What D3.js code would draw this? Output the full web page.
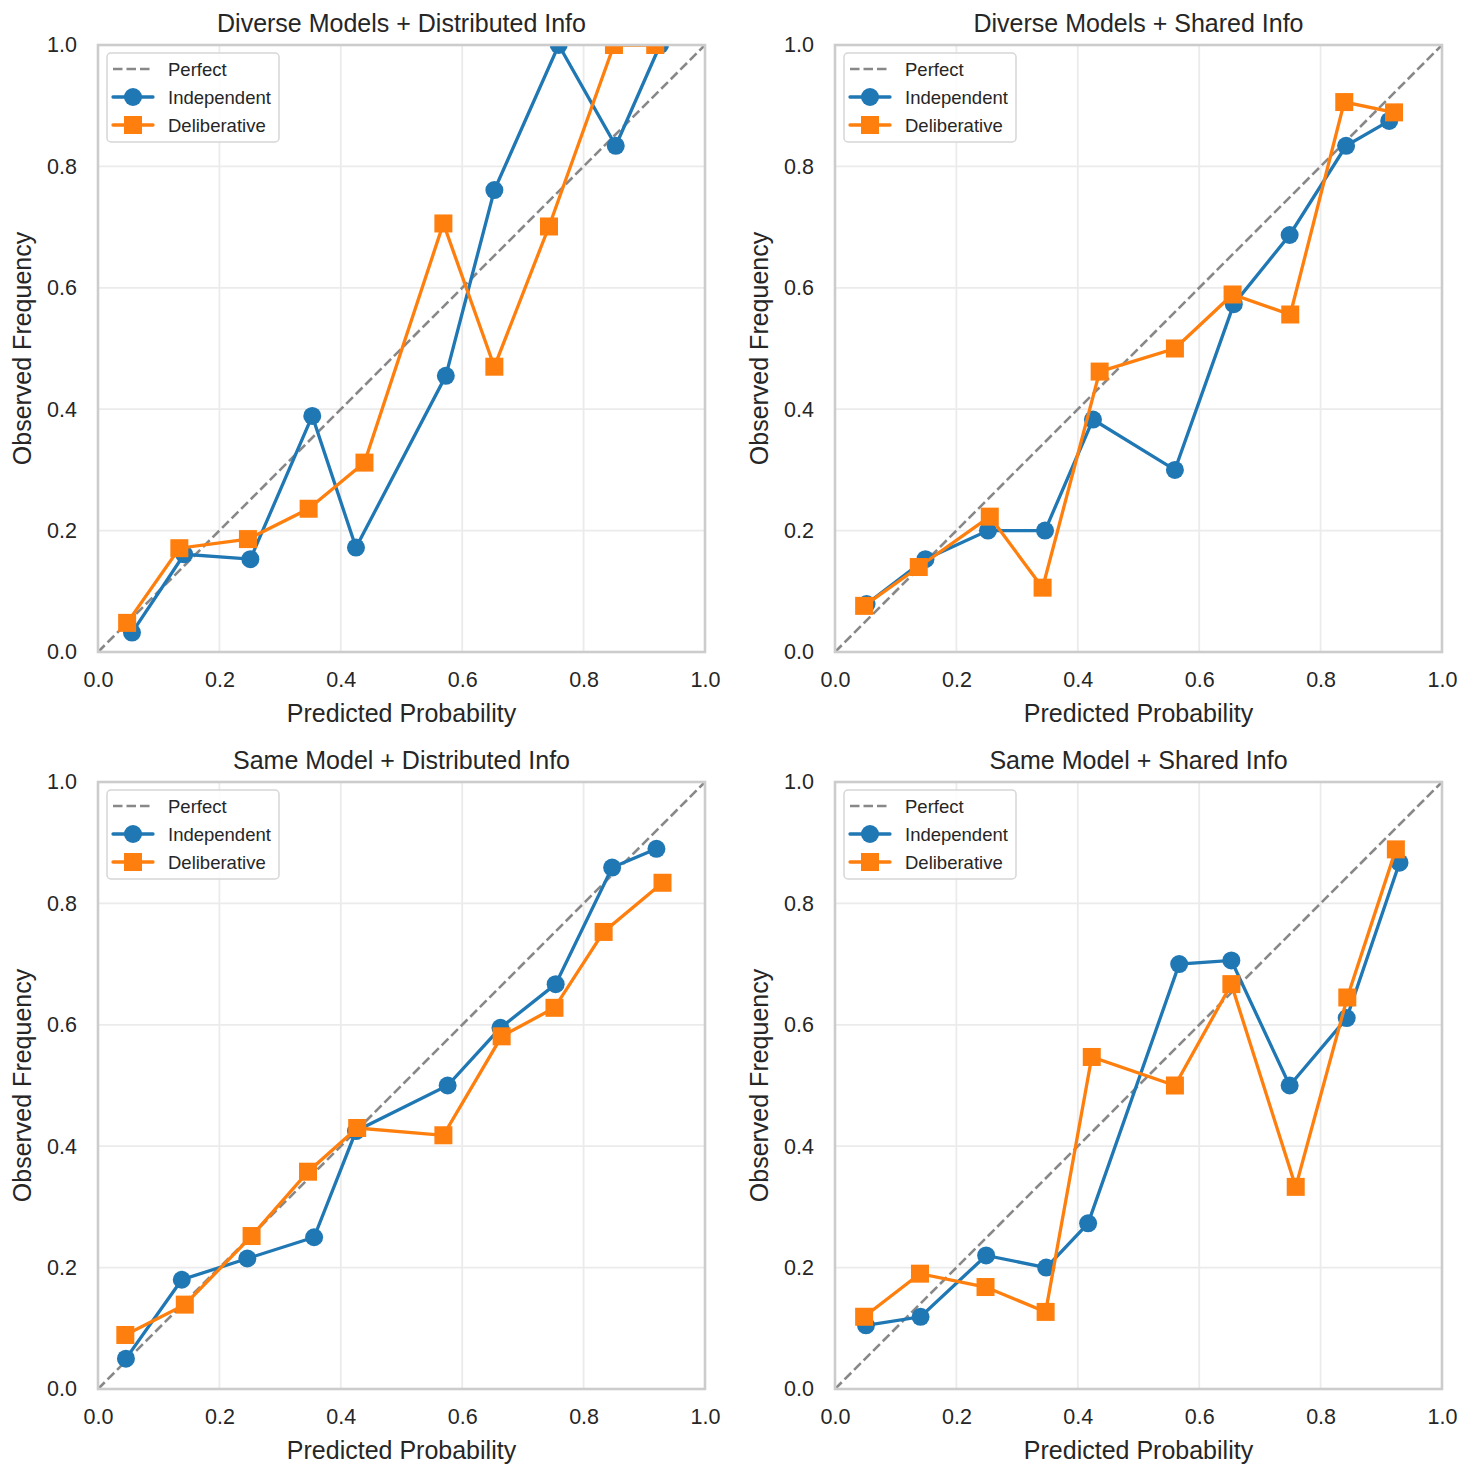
<!DOCTYPE html>
<html><head><meta charset="utf-8">
<script src="https://cdn.jsdelivr.net/npm/d3@7"></script>
<style>body{margin:0;background:#fff}svg{display:block}text{font-family:"Liberation Sans",Arial,sans-serif;fill:#262626}</style>
</head><body>
<svg id="c" width="1472" height="1475"></svg>
<script>
const titles = ["Diverse Models + Distributed Info","Diverse Models + Shared Info","Same Model + Distributed Info","Same Model + Shared Info"];
const indepX = [
 [0.056,0.142,0.251,0.353,0.425,0.573,0.653,0.759,0.853,0.926],
 [0.052,0.149,0.252,0.346,0.425,0.560,0.657,0.749,0.842,0.913],
 [0.046,0.138,0.246,0.356,0.425,0.576,0.663,0.754,0.847,0.920],
 [0.051,0.141,0.249,0.348,0.417,0.567,0.653,0.749,0.843,0.930]];
const indepY = [
 [0.032,0.161,0.153,0.389,0.172,0.455,0.761,1.0,0.834,1.0],
 [0.079,0.153,0.200,0.200,0.383,0.300,0.573,0.687,0.834,0.875],
 [0.050,0.180,0.215,0.250,0.425,0.500,0.595,0.667,0.859,0.890],
 [0.105,0.119,0.220,0.200,0.273,0.700,0.706,0.500,0.611,0.867]];
const delibX = [
 [0.048,0.134,0.247,0.347,0.439,0.569,0.653,0.743,0.850,0.918],
 [0.048,0.138,0.255,0.342,0.436,0.560,0.655,0.750,0.839,0.921],
 [0.045,0.143,0.253,0.346,0.427,0.569,0.665,0.752,0.833,0.930],
 [0.048,0.140,0.248,0.347,0.423,0.560,0.653,0.759,0.844,0.924]];
const delibY = [
 [0.048,0.171,0.186,0.236,0.312,0.706,0.470,0.701,1.0,1.0],
 [0.076,0.140,0.223,0.106,0.462,0.500,0.589,0.556,0.906,0.889],
 [0.089,0.139,0.252,0.358,0.430,0.418,0.581,0.628,0.753,0.834],
 [0.119,0.190,0.168,0.127,0.547,0.500,0.667,0.333,0.645,0.889]];
const ticks = [0,0.2,0.4,0.6,0.8,1.0];
const tickLabels = ["0.0","0.2","0.4","0.6","0.8","1.0"];

const blue="#1f77b4", orange="#ff7f0e";
const svg=d3.select("#c");
const lefts=[98,835], tops=[45,782], W=607, H=607;

titles.forEach((t,i)=>{
  const ox=lefts[i%2], oy=tops[Math.floor(i/2)];
  const g=svg.append("g").attr("transform",`translate(${ox},${oy})`);
  const x=d3.scaleLinear().domain([0,1]).range([0,W]);
  const y=d3.scaleLinear().domain([0,1]).range([H,0]);
  // grid
  g.append("g").selectAll("line").data(ticks).join("line")
    .attr("x1",d=>x(d)).attr("x2",d=>x(d)).attr("y1",0).attr("y2",H)
    .attr("stroke","#ebebeb").attr("stroke-width",1.8);
  g.append("g").selectAll("line").data(ticks).join("line")
    .attr("y1",d=>y(d)).attr("y2",d=>y(d)).attr("x1",0).attr("x2",W)
    .attr("stroke","#ebebeb").attr("stroke-width",1.8);
  // axes ticks labels
  const xa=g.append("g").attr("transform",`translate(0,${H})`)
    .call(d3.axisBottom(x).tickValues(ticks).tickFormat((d,k)=>tickLabels[k]).tickSize(0).tickPadding(20));
  xa.select(".domain").remove();
  xa.attr("font-size",null).attr("font-family",null);
  xa.selectAll("text").style("font-size","21.5px").style("fill","#262626");
  const ya=g.append("g").call(d3.axisLeft(y).tickValues(ticks).tickFormat((d,k)=>tickLabels[k]).tickSize(0).tickPadding(21));
  ya.select(".domain").remove();
  ya.attr("font-size",null).attr("font-family",null);
  ya.selectAll("text").style("font-size","21.5px").style("fill","#262626");
  // perfect line
  g.append("line").attr("x1",x(0)).attr("y1",y(0)).attr("x2",x(1)).attr("y2",y(1))
    .attr("stroke","#888888").attr("stroke-width",2.6).attr("stroke-dasharray","9.5,4");
  const line=d3.line().x(d=>x(d[0])).y(d=>y(d[1]));
  const ind=indepX[i].map((v,k)=>[v,indepY[i][k]]);
  const del=delibX[i].map((v,k)=>[v,delibY[i][k]]);
  const clipId="clip"+i;
  g.append("clipPath").attr("id",clipId).append("rect").attr("x",-12).attr("y",-1).attr("width",W+24).attr("height",H+13);
  const pg=g.append("g").attr("clip-path",`url(#${clipId})`);
  pg.append("path").datum(ind).attr("d",line).attr("fill","none").attr("stroke",blue).attr("stroke-width",3.3);
  pg.selectAll("circle.ind").data(ind).join("circle").attr("class","ind")
    .attr("cx",d=>x(d[0])).attr("cy",d=>y(d[1])).attr("r",9).attr("fill",blue);
  pg.append("path").datum(del).attr("d",line).attr("fill","none").attr("stroke",orange).attr("stroke-width",3.3);
  pg.selectAll("rect.del").data(del).join("rect").attr("class","del")
    .attr("x",d=>x(d[0])-9).attr("y",d=>y(d[1])-9).attr("width",18).attr("height",18).attr("fill",orange);
  // frame
  g.append("rect").attr("x",0).attr("y",0).attr("width",W).attr("height",H)
    .attr("fill","none").attr("stroke","#cccccc").attr("stroke-width",2.6);
  // title, labels
  g.append("text").attr("x",W/2).attr("y",-13).attr("text-anchor","middle").style("font-size","25px").text(t);
  g.append("text").attr("x",W/2).attr("y",H+70).attr("text-anchor","middle").style("font-size","25px").text("Predicted Probability");
  g.append("text").attr("transform",`translate(${-67},${H/2}) rotate(-90)`).attr("text-anchor","middle").style("font-size","25px").text("Observed Frequency");
  // legend
  const lg=g.append("g").attr("transform","translate(9,8)");
  lg.append("rect").attr("x",0).attr("y",0).attr("width",172).attr("height",89).attr("rx",4)
    .attr("fill","#fff").attr("fill-opacity",0.85).attr("stroke","#d6d6d6").attr("stroke-width",1.5);
  const items=[{n:"Perfect",t:"p"},{n:"Independent",t:"i"},{n:"Deliberative",t:"d"}];
  items.forEach((it,k)=>{
    const cy=16+k*28;
    if(it.t==="p"){
      lg.append("line").attr("x1",6).attr("x2",46).attr("y1",cy).attr("y2",cy).attr("stroke","#888888").attr("stroke-width",2.6).attr("stroke-dasharray","9.5,4");
    } else {
      const c=it.t==="i"?blue:orange;
      lg.append("line").attr("x1",6).attr("x2",46).attr("y1",cy).attr("y2",cy).attr("stroke",c).attr("stroke-width",3.3).attr("stroke-linecap","round");
      if(it.t==="i") lg.append("circle").attr("cx",26).attr("cy",cy).attr("r",9).attr("fill",c);
      else lg.append("rect").attr("x",17).attr("y",cy-9).attr("width",18).attr("height",18).attr("fill",c);
    }
    lg.append("text").attr("x",61).attr("y",cy+6.5).style("font-size","18.5px").text(it.n);
  });
});
</script>
</body></html>
